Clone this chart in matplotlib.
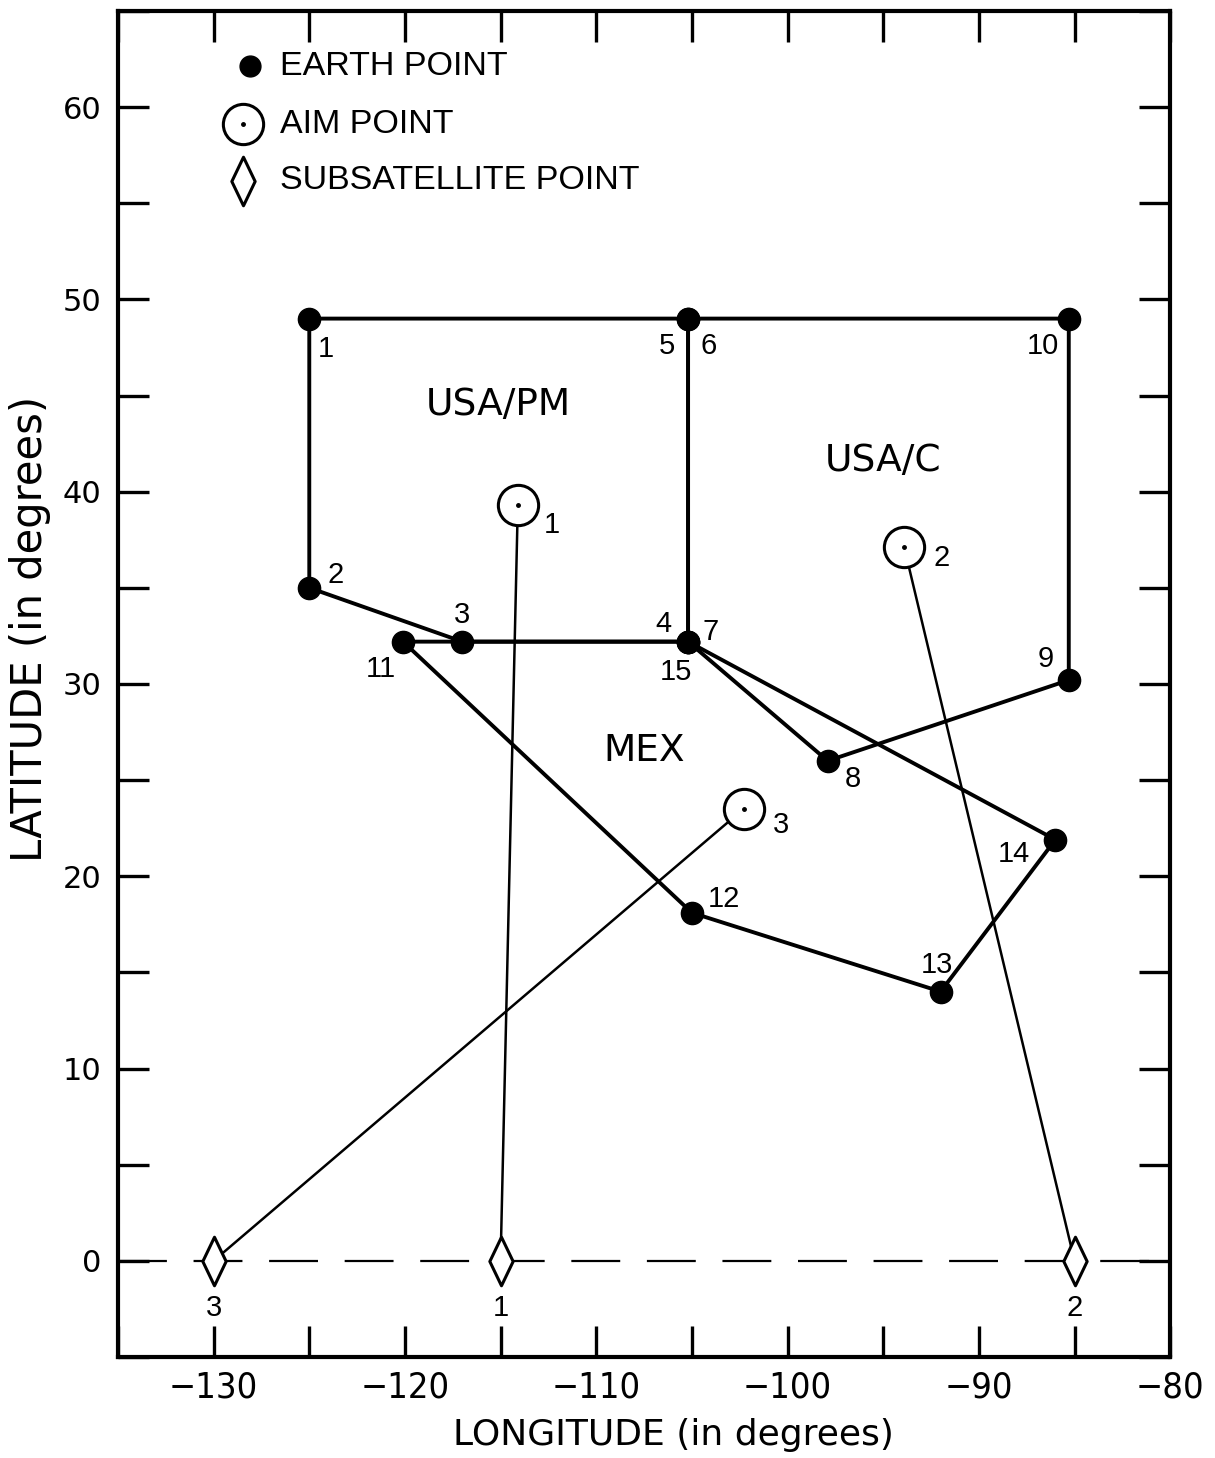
import matplotlib
matplotlib.use("Agg")
import matplotlib.pyplot as plt
from matplotlib.path import Path
import numpy as np

# ---------------- data ----------------
earth_ids = [1, 2, 3, 4, 5, 6, 7, 8, 9, 10, 11, 12, 13, 14, 15]
earth_lon = [-125.0, -125.0, -117.0, -105.2, -105.2, -105.2, -105.2, -97.9, -85.3, -85.3,
             -120.1, -105.0, -92.0, -86.0, -105.2]
earth_lat = [49.0, 35.0, 32.2, 32.2, 49.0, 49.0, 32.2, 26.0, 30.2, 49.0,
             32.2, 18.1, 14.0, 21.9, 32.2]

regions = ["USA/PM", "USA/C", "MEX"]
region_paths = [[1, 2, 3, 4, 5, 1], [6, 7, 8, 9, 10, 6], [11, 12, 13, 14, 15, 11]]
region_label_lon = [-115.1, -95.0, -107.5]
region_label_lat = [44.5, 41.6, 26.5]

aim_ids = [1, 2, 3]
aim_lon = [-114.1, -93.9, -102.3]
aim_lat = [39.3, 37.1, 23.5]

sub_ids = [1, 2, 3]
sub_lon = [-115.0, -85.0, -130.0]
sub_lat = [0.0, 0.0, 0.0]

xticks = [-130, -120, -110, -100, -90, -80]
yticks = [0, 10, 20, 30, 40, 50, 60]

legend_labels = ["EARTH POINT", "AIM POINT", "SUBSATELLITE POINT"]

# ---------------- style ----------------
PX = 72.0 / 100.0  # pixel -> point
earth_off_px = {1: (17, -30), 2: (26, 13), 3: (0, 27), 4: (-25, 18), 5: (-21, -27),
                6: (21, -27), 7: (23, 10), 8: (25, -18), 9: (-23, 21), 10: (-26, -27),
                11: (-22, -27), 12: (32, 14), 13: (-4, 27), 14: (-42, -14), 15: (-12, -30)}
aim_off_px = {1: (34, -20), 2: (37, -11), 3: (37, -16)}

plain = ['Liberation Sans', 'DejaVu Sans']
wide = ['DejaVu Sans']

diamond = Path([(0, 1), (0.48, 0), (0, -1), (-0.48, 0), (0, 1)],
               [Path.MOVETO, Path.LINETO, Path.LINETO, Path.LINETO, Path.CLOSEPOLY])

fig = plt.figure(figsize=(12.15, 14.58), dpi=100)
ax = fig.add_axes([0.0971, 0.0693, 0.8660, 0.9232])
ax.set_xlim(-135, -80)
ax.set_ylim(-5, 65)

lw = 2.8
lon_of = dict(zip(earth_ids, earth_lon))
lat_of = dict(zip(earth_ids, earth_lat))
for path in region_paths:
    ax.plot([lon_of[i] for i in path], [lat_of[i] for i in path], color='black', lw=lw,
            solid_capstyle='round', solid_joinstyle='round', zorder=2)

# equator dashed line
ax.axhline(0, color='black', lw=1.6, dashes=(22, 12), zorder=1)

# aim -> subsatellite lines
for a_lon, a_lat, s_lon, s_lat in zip(aim_lon, aim_lat, sub_lon, sub_lat):
    ax.plot([a_lon, s_lon], [a_lat, s_lat], color='black', lw=1.8, zorder=2)

# earth points
ax.plot(earth_lon, earth_lat, 'o', color='black', ms=16, zorder=4, linestyle='none')

# aim points
ax.plot(aim_lon, aim_lat, 'o', mfc='white', mec='black', mew=2.2, ms=29, zorder=4,
        linestyle='none')
ax.plot(aim_lon, aim_lat, 'o', color='black', ms=2.5, zorder=5, linestyle='none')

# subsatellite points
ax.plot(sub_lon, sub_lat, marker=diamond, mfc='white', mec='black', mew=2.2, ms=35,
        zorder=4, linestyle='none')

# labels
for i, x, y in zip(earth_ids, earth_lon, earth_lat):
    dx, dy = earth_off_px[i]
    ax.annotate(str(i), (x, y), xytext=(dx * PX, dy * PX), textcoords='offset points',
                ha='center', va='center', fontsize=21, family=plain)
for i, x, y in zip(aim_ids, aim_lon, aim_lat):
    dx, dy = aim_off_px[i]
    ax.annotate(str(i), (x, y), xytext=(dx * PX, dy * PX), textcoords='offset points',
                ha='center', va='center', fontsize=21, family=plain)
for i, x, y in zip(sub_ids, sub_lon, sub_lat):
    ax.annotate(str(i), (x, y), xytext=(0, -47 * PX), textcoords='offset points',
                ha='center', va='center', fontsize=21, family=plain)
for name, x, y in zip(regions, region_label_lon, region_label_lat):
    ax.text(x, y, name, ha='center', va='center', fontsize=27, family=wide)

# legend (manual)
leg_y = [0.959, 0.916, 0.874]
ax.plot([0.125], [leg_y[0]], 'o', color='black', ms=15, transform=ax.transAxes)
ax.plot([0.119], [leg_y[1]], 'o', mfc='white', mec='black', mew=2.2, ms=29,
        transform=ax.transAxes)
ax.plot([0.119], [leg_y[1]], 'o', color='black', ms=2.5, transform=ax.transAxes)
ax.plot([0.119], [leg_y[2]], marker=diamond, mfc='white', mec='black', mew=2.2, ms=35,
        transform=ax.transAxes, linestyle='none')
for lbl, y in zip(legend_labels, leg_y):
    ax.text(0.154, y, lbl, transform=ax.transAxes, ha='left', va='center',
            fontsize=24.5, family=plain)

# axes styling
for s in ax.spines.values():
    s.set_linewidth(3.0)
ax.set_xticks(xticks)
ax.set_yticks(yticks)
ax.set_xticks(np.arange(-135, -79, 5), minor=True)
ax.set_yticks(np.arange(-5, 66, 5), minor=True)
ax.set_xticklabels([u"\u2212%d" % abs(v) for v in xticks])
ax.set_yticklabels([str(v) for v in yticks])
ax.tick_params(which='both', direction='in', top=True, right=True, length=22, width=2.4)
ax.tick_params(axis='x', which='major', labelsize=26, pad=10)
ax.tick_params(axis='y', which='major', labelsize=22, pad=12)
for t in ax.get_xticklabels():
    t.set_family(wide)
    t.set_fontstretch('condensed')
for t in ax.get_yticklabels():
    t.set_family(wide)

ax.set_xlabel("LONGITUDE (in degrees)", fontsize=26, family=wide)
ax.set_ylabel("LATITUDE (in degrees)", fontsize=30, family=wide)
ax.xaxis.label.set_va('center')
ax.yaxis.label.set_va('center')
ax.xaxis.set_label_coords(0.5276, -0.058)
ax.yaxis.set_label_coords(-0.0837, 0.5405)

fig.savefig("out.png", dpi=100, facecolor='white')
